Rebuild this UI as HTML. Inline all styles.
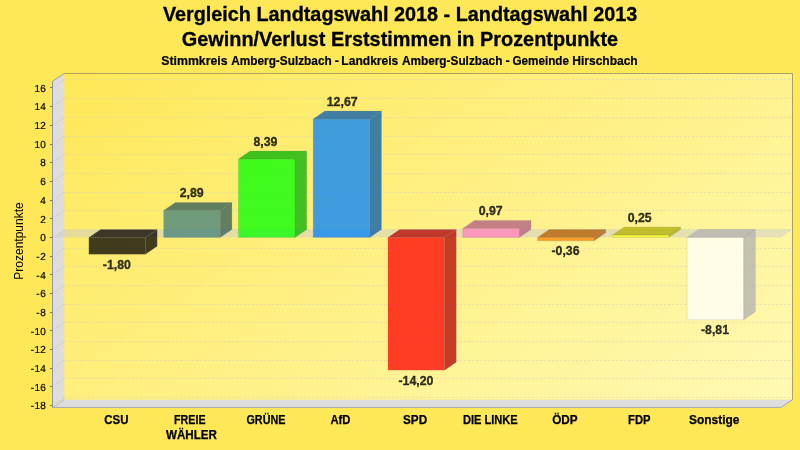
<!DOCTYPE html>
<html lang="de"><head><meta charset="utf-8"><title>Vergleich Landtagswahl 2018 - Landtagswahl 2013</title>
<style>html,body{margin:0;padding:0;background:#FEE857;overflow:hidden}svg{display:block}</style></head>
<body>
<svg width="800" height="450" viewBox="0 0 800 450" font-family="'Liberation Sans', Arial, sans-serif">
<defs><linearGradient id="pg" gradientUnits="userSpaceOnUse" x1="64.2" y1="73.3" x2="441.2" y2="635.3"><stop offset="0" stop-color="#FEE857"/><stop offset="1" stop-color="#FFF9B4"/></linearGradient></defs>
<rect width="800" height="450" fill="#FEE857"/>
<rect x="64.2" y="73.3" width="728.2" height="326.4" fill="url(#pg)"/>
<polygon points="52.50,81.30 64.20,73.30 64.20,399.70 52.50,407.70" fill="#DDDDDD"/>
<polygon points="52.50,407.70 64.20,399.70 792.40,399.70 780.70,407.70" fill="#DDDDDD"/>
<path d="M64.2,73.5 L792.5,73.5 L792.5,399.7" fill="none" stroke="#646464" stroke-opacity="0.55" stroke-width="1"/>
<path d="M52.5,81.3 L64.2,73.5" fill="none" stroke="#9C9CAC" stroke-width="1"/>
<path d="M792.5,399.7 L780.7,407.7" fill="none" stroke="#A2A2B4" stroke-width="1"/>
<path d="M52.5,407.7 L64.2,399.7" fill="none" stroke="#BEBEBE" stroke-width="1"/>
<line x1="52.5" y1="405.5" x2="64.2" y2="397.5" stroke="#C4C4C4" stroke-width="1" stroke-dasharray="2,2" stroke-opacity="0.7"/>
<line x1="64.2" y1="397.5" x2="791.4" y2="397.5" stroke="#D4D2C2" stroke-width="1" stroke-dasharray="2,2" stroke-opacity="0.62"/>
<line x1="52.5" y1="386.5" x2="64.2" y2="378.5" stroke="#C4C4C4" stroke-width="1" stroke-dasharray="2,2" stroke-opacity="0.7"/>
<line x1="64.2" y1="378.5" x2="791.4" y2="378.5" stroke="#D4D2C2" stroke-width="1" stroke-dasharray="2,2" stroke-opacity="0.62"/>
<line x1="52.5" y1="368.5" x2="64.2" y2="360.5" stroke="#C4C4C4" stroke-width="1" stroke-dasharray="2,2" stroke-opacity="0.7"/>
<line x1="64.2" y1="360.5" x2="791.4" y2="360.5" stroke="#D4D2C2" stroke-width="1" stroke-dasharray="2,2" stroke-opacity="0.62"/>
<line x1="52.5" y1="349.5" x2="64.2" y2="341.5" stroke="#C4C4C4" stroke-width="1" stroke-dasharray="2,2" stroke-opacity="0.7"/>
<line x1="64.2" y1="341.5" x2="791.4" y2="341.5" stroke="#D4D2C2" stroke-width="1" stroke-dasharray="2,2" stroke-opacity="0.62"/>
<line x1="52.5" y1="330.5" x2="64.2" y2="322.5" stroke="#C4C4C4" stroke-width="1" stroke-dasharray="2,2" stroke-opacity="0.7"/>
<line x1="64.2" y1="322.5" x2="791.4" y2="322.5" stroke="#D4D2C2" stroke-width="1" stroke-dasharray="2,2" stroke-opacity="0.62"/>
<line x1="52.5" y1="312.5" x2="64.2" y2="304.5" stroke="#C4C4C4" stroke-width="1" stroke-dasharray="2,2" stroke-opacity="0.7"/>
<line x1="64.2" y1="304.5" x2="791.4" y2="304.5" stroke="#D4D2C2" stroke-width="1" stroke-dasharray="2,2" stroke-opacity="0.62"/>
<line x1="52.5" y1="293.5" x2="64.2" y2="285.5" stroke="#C4C4C4" stroke-width="1" stroke-dasharray="2,2" stroke-opacity="0.7"/>
<line x1="64.2" y1="285.5" x2="791.4" y2="285.5" stroke="#D4D2C2" stroke-width="1" stroke-dasharray="2,2" stroke-opacity="0.62"/>
<line x1="52.5" y1="274.5" x2="64.2" y2="266.5" stroke="#C4C4C4" stroke-width="1" stroke-dasharray="2,2" stroke-opacity="0.7"/>
<line x1="64.2" y1="266.5" x2="791.4" y2="266.5" stroke="#D4D2C2" stroke-width="1" stroke-dasharray="2,2" stroke-opacity="0.62"/>
<line x1="52.5" y1="256.5" x2="64.2" y2="248.5" stroke="#C4C4C4" stroke-width="1" stroke-dasharray="2,2" stroke-opacity="0.7"/>
<line x1="64.2" y1="248.5" x2="791.4" y2="248.5" stroke="#D4D2C2" stroke-width="1" stroke-dasharray="2,2" stroke-opacity="0.62"/>
<line x1="52.5" y1="237.5" x2="64.2" y2="229.5" stroke="#C4C4C4" stroke-width="1" stroke-dasharray="2,2" stroke-opacity="0.7"/>
<line x1="64.2" y1="229.5" x2="791.4" y2="229.5" stroke="#D4D2C2" stroke-width="1" stroke-dasharray="2,2" stroke-opacity="0.62"/>
<line x1="52.5" y1="218.5" x2="64.2" y2="210.5" stroke="#C4C4C4" stroke-width="1" stroke-dasharray="2,2" stroke-opacity="0.7"/>
<line x1="64.2" y1="210.5" x2="791.4" y2="210.5" stroke="#D4D2C2" stroke-width="1" stroke-dasharray="2,2" stroke-opacity="0.62"/>
<line x1="52.5" y1="200.5" x2="64.2" y2="192.5" stroke="#C4C4C4" stroke-width="1" stroke-dasharray="2,2" stroke-opacity="0.7"/>
<line x1="64.2" y1="192.5" x2="791.4" y2="192.5" stroke="#D4D2C2" stroke-width="1" stroke-dasharray="2,2" stroke-opacity="0.62"/>
<line x1="52.5" y1="181.5" x2="64.2" y2="173.5" stroke="#C4C4C4" stroke-width="1" stroke-dasharray="2,2" stroke-opacity="0.7"/>
<line x1="64.2" y1="173.5" x2="791.4" y2="173.5" stroke="#D4D2C2" stroke-width="1" stroke-dasharray="2,2" stroke-opacity="0.62"/>
<line x1="52.5" y1="162.5" x2="64.2" y2="154.5" stroke="#C4C4C4" stroke-width="1" stroke-dasharray="2,2" stroke-opacity="0.7"/>
<line x1="64.2" y1="154.5" x2="791.4" y2="154.5" stroke="#D4D2C2" stroke-width="1" stroke-dasharray="2,2" stroke-opacity="0.62"/>
<line x1="52.5" y1="144.5" x2="64.2" y2="136.5" stroke="#C4C4C4" stroke-width="1" stroke-dasharray="2,2" stroke-opacity="0.7"/>
<line x1="64.2" y1="136.5" x2="791.4" y2="136.5" stroke="#D4D2C2" stroke-width="1" stroke-dasharray="2,2" stroke-opacity="0.62"/>
<line x1="52.5" y1="125.5" x2="64.2" y2="117.5" stroke="#C4C4C4" stroke-width="1" stroke-dasharray="2,2" stroke-opacity="0.7"/>
<line x1="64.2" y1="117.5" x2="791.4" y2="117.5" stroke="#D4D2C2" stroke-width="1" stroke-dasharray="2,2" stroke-opacity="0.62"/>
<line x1="52.5" y1="106.5" x2="64.2" y2="98.5" stroke="#C4C4C4" stroke-width="1" stroke-dasharray="2,2" stroke-opacity="0.7"/>
<line x1="64.2" y1="98.5" x2="791.4" y2="98.5" stroke="#D4D2C2" stroke-width="1" stroke-dasharray="2,2" stroke-opacity="0.62"/>
<line x1="52.5" y1="87.5" x2="64.2" y2="79.5" stroke="#C4C4C4" stroke-width="1" stroke-dasharray="2,2" stroke-opacity="0.7"/>
<line x1="64.2" y1="79.5" x2="791.4" y2="79.5" stroke="#D4D2C2" stroke-width="1" stroke-dasharray="2,2" stroke-opacity="0.62"/>
<polygon points="52.50,237.45 64.20,229.45 792.40,229.45 780.70,237.45" fill="#CCCCCC" fill-opacity="0.5"/>
<g fill-opacity="0.75" stroke="#808080" stroke-opacity="0.3" stroke-width="0.6" stroke-linejoin="round">
<polygon points="145.46,237.45 157.16,229.45 157.16,246.27 145.46,254.27" fill="rgb(0,0,0)"/>
<polygon points="88.88,237.45 100.58,229.45 157.16,229.45 145.46,237.45" fill="rgb(0,0,0)"/>
<rect x="88.88" y="237.45" width="56.58" height="16.82" fill="rgb(0,0,0)"/>
</g>
<g fill-opacity="0.75" stroke="#808080" stroke-opacity="0.3" stroke-width="0.6" stroke-linejoin="round">
<polygon points="220.23,210.44 231.93,202.44 231.93,229.45 220.23,237.45" fill="rgb(44,89,89)"/>
<polygon points="163.65,210.44 175.35,202.44 231.93,202.44 220.23,210.44" fill="rgb(44,89,89)"/>
<rect x="163.65" y="210.44" width="56.58" height="27.01" fill="rgb(64,128,128)"/>
</g>
<g fill-opacity="0.75" stroke="#808080" stroke-opacity="0.3" stroke-width="0.6" stroke-linejoin="round">
<polygon points="295.00,159.05 306.70,151.05 306.70,229.45 295.00,237.45" fill="rgb(0,178,0)"/>
<polygon points="238.42,159.05 250.12,151.05 306.70,151.05 295.00,159.05" fill="rgb(0,178,0)"/>
<rect x="238.42" y="159.05" width="56.58" height="78.40" fill="rgb(0,255,0)"/>
</g>
<g fill-opacity="0.75" stroke="#808080" stroke-opacity="0.3" stroke-width="0.6" stroke-linejoin="round">
<polygon points="369.77,119.05 381.47,111.05 381.47,229.45 369.77,237.45" fill="rgb(0,89,178)"/>
<polygon points="313.19,119.05 324.89,111.05 381.47,111.05 369.77,119.05" fill="rgb(0,89,178)"/>
<rect x="313.19" y="119.05" width="56.58" height="118.40" fill="rgb(0,128,255)"/>
</g>
<g fill-opacity="0.75" stroke="#808080" stroke-opacity="0.3" stroke-width="0.6" stroke-linejoin="round">
<polygon points="444.54,237.45 456.24,229.45 456.24,362.15 444.54,370.15" fill="rgb(178,0,0)"/>
<polygon points="387.96,237.45 399.66,229.45 456.24,229.45 444.54,237.45" fill="rgb(178,0,0)"/>
<rect x="387.96" y="237.45" width="56.58" height="132.70" fill="rgb(255,0,0)"/>
</g>
<g fill-opacity="0.75" stroke="#808080" stroke-opacity="0.3" stroke-width="0.6" stroke-linejoin="round">
<polygon points="519.31,228.39 531.01,220.39 531.01,229.45 519.31,237.45" fill="rgb(178,89,134)"/>
<polygon points="462.73,228.39 474.43,220.39 531.01,220.39 519.31,228.39" fill="rgb(178,89,134)"/>
<rect x="462.73" y="228.39" width="56.58" height="9.06" fill="rgb(255,128,192)"/>
</g>
<g fill-opacity="0.75" stroke="#808080" stroke-opacity="0.3" stroke-width="0.6" stroke-linejoin="round">
<polygon points="594.08,237.45 605.78,229.45 605.78,232.81 594.08,240.81" fill="rgb(178,89,0)"/>
<polygon points="537.50,237.45 549.20,229.45 605.78,229.45 594.08,237.45" fill="rgb(178,89,0)"/>
<rect x="537.50" y="237.45" width="56.58" height="3.36" fill="rgb(255,128,0)"/>
</g>
<g fill-opacity="0.75" stroke="#808080" stroke-opacity="0.3" stroke-width="0.6" stroke-linejoin="round">
<polygon points="668.85,235.11 680.55,227.11 680.55,229.45 668.85,237.45" fill="rgb(178,178,0)"/>
<polygon points="612.27,235.11 623.97,227.11 680.55,227.11 668.85,235.11" fill="rgb(178,178,0)"/>
<rect x="612.27" y="235.11" width="56.58" height="2.34" fill="rgb(255,255,0)"/>
</g>
<g fill-opacity="0.75" stroke="#808080" stroke-opacity="0.3" stroke-width="0.6" stroke-linejoin="round">
<polygon points="743.62,237.45 755.33,229.45 755.33,311.78 743.62,319.78" fill="rgb(178,178,178)"/>
<polygon points="687.04,237.45 698.74,229.45 755.33,229.45 743.62,237.45" fill="rgb(178,178,178)"/>
<rect x="687.04" y="237.45" width="56.58" height="82.33" fill="rgb(255,255,255)"/>
</g>
<text x="102.87" y="268.77" textLength="28" lengthAdjust="spacingAndGlyphs" font-size="12.4" font-weight="bold" fill="#000" fill-opacity="0.8" stroke="#000" stroke-opacity="0.8" stroke-width="0.3">-1,80</text>
<text x="104.20" y="424.1" textLength="24.25" font-size="12.3" font-weight="bold" fill="#000" stroke="#000" stroke-width="0.25" lengthAdjust="spacingAndGlyphs">CSU</text>
<text x="179.64" y="197.14" textLength="24" lengthAdjust="spacingAndGlyphs" font-size="12.4" font-weight="bold" fill="#000" fill-opacity="0.8" stroke="#000" stroke-opacity="0.8" stroke-width="0.3">2,89</text>
<text x="174.05" y="424.1" textLength="31.60" font-size="12.3" font-weight="bold" fill="#000" stroke="#000" stroke-width="0.25" lengthAdjust="spacingAndGlyphs">FREIE</text>
<text x="165.95" y="439.1" textLength="51.00" font-size="12.3" font-weight="bold" fill="#000" stroke="#000" stroke-width="0.25" lengthAdjust="spacingAndGlyphs">WÄHLER</text>
<text x="253.41" y="145.75" textLength="24" lengthAdjust="spacingAndGlyphs" font-size="12.4" font-weight="bold" fill="#000" fill-opacity="0.8" stroke="#000" stroke-opacity="0.8" stroke-width="0.3">8,39</text>
<text x="246.45" y="424.1" textLength="39.00" font-size="12.3" font-weight="bold" fill="#000" stroke="#000" stroke-width="0.25" lengthAdjust="spacingAndGlyphs">GRÜNE</text>
<text x="326.68" y="105.75" textLength="31" lengthAdjust="spacingAndGlyphs" font-size="12.4" font-weight="bold" fill="#000" fill-opacity="0.8" stroke="#000" stroke-opacity="0.8" stroke-width="0.3">12,67</text>
<text x="330.45" y="424.1" textLength="20.00" font-size="12.3" font-weight="bold" fill="#000" stroke="#000" stroke-width="0.25" lengthAdjust="spacingAndGlyphs">AfD</text>
<text x="398.45" y="384.65" textLength="35" lengthAdjust="spacingAndGlyphs" font-size="12.4" font-weight="bold" fill="#000" fill-opacity="0.8" stroke="#000" stroke-opacity="0.8" stroke-width="0.3">-14,20</text>
<text x="403.05" y="424.1" textLength="24.10" font-size="12.3" font-weight="bold" fill="#000" stroke="#000" stroke-width="0.25" lengthAdjust="spacingAndGlyphs">SPD</text>
<text x="478.72" y="215.09" textLength="24" lengthAdjust="spacingAndGlyphs" font-size="12.4" font-weight="bold" fill="#000" fill-opacity="0.8" stroke="#000" stroke-opacity="0.8" stroke-width="0.3">0,97</text>
<text x="462.95" y="424.1" textLength="54.80" font-size="12.3" font-weight="bold" fill="#000" stroke="#000" stroke-width="0.25" lengthAdjust="spacingAndGlyphs">DIE LINKE</text>
<text x="551.49" y="255.31" textLength="28" lengthAdjust="spacingAndGlyphs" font-size="12.4" font-weight="bold" fill="#000" fill-opacity="0.8" stroke="#000" stroke-opacity="0.8" stroke-width="0.3">-0,36</text>
<text x="552.15" y="424.1" textLength="25.40" font-size="12.3" font-weight="bold" fill="#000" stroke="#000" stroke-width="0.25" lengthAdjust="spacingAndGlyphs">ÖDP</text>
<text x="627.66" y="221.81" textLength="24" lengthAdjust="spacingAndGlyphs" font-size="12.4" font-weight="bold" fill="#000" fill-opacity="0.8" stroke="#000" stroke-opacity="0.8" stroke-width="0.3">0,25</text>
<text x="628.05" y="424.1" textLength="22.40" font-size="12.3" font-weight="bold" fill="#000" stroke="#000" stroke-width="0.25" lengthAdjust="spacingAndGlyphs">FDP</text>
<text x="701.03" y="334.28" textLength="28" lengthAdjust="spacingAndGlyphs" font-size="12.4" font-weight="bold" fill="#000" fill-opacity="0.8" stroke="#000" stroke-opacity="0.8" stroke-width="0.3">-8,81</text>
<text x="689.05" y="424.1" textLength="50.40" font-size="12.3" font-weight="bold" fill="#000" stroke="#000" stroke-width="0.25" lengthAdjust="spacingAndGlyphs">Sonstige</text>
<line x1="52.5" y1="81.3" x2="52.5" y2="407.7" stroke="#95959F" stroke-width="1"/>
<line x1="52.5" y1="407.4" x2="780.7" y2="407.4" stroke="#A6A6B0" stroke-width="1"/>
<line x1="50" y1="405.5" x2="52.5" y2="405.5" stroke="#7C7C84" stroke-width="1"/>
<text transform="translate(30.65,409) rotate(0.05) scale(1,1.02)" font-size="10" fill="#000" stroke="#000" stroke-width="0.2">-<tspan dx="0.6" textLength="11.12" lengthAdjust="spacingAndGlyphs">18</tspan></text>
<line x1="50" y1="386.5" x2="52.5" y2="386.5" stroke="#7C7C84" stroke-width="1"/>
<text transform="translate(30.65,391) rotate(0.05) scale(1,1.02)" font-size="10" fill="#000" stroke="#000" stroke-width="0.2">-<tspan dx="0.6" textLength="11.12" lengthAdjust="spacingAndGlyphs">16</tspan></text>
<line x1="50" y1="368.5" x2="52.5" y2="368.5" stroke="#7C7C84" stroke-width="1"/>
<text transform="translate(30.65,372) rotate(0.05) scale(1,1.02)" font-size="10" fill="#000" stroke="#000" stroke-width="0.2">-<tspan dx="0.6" textLength="11.12" lengthAdjust="spacingAndGlyphs">14</tspan></text>
<line x1="50" y1="349.5" x2="52.5" y2="349.5" stroke="#7C7C84" stroke-width="1"/>
<text transform="translate(30.65,353) rotate(0.05) scale(1,1.02)" font-size="10" fill="#000" stroke="#000" stroke-width="0.2">-<tspan dx="0.6" textLength="11.12" lengthAdjust="spacingAndGlyphs">12</tspan></text>
<line x1="50" y1="330.5" x2="52.5" y2="330.5" stroke="#7C7C84" stroke-width="1"/>
<text transform="translate(30.65,335) rotate(0.05) scale(1,1.02)" font-size="10" fill="#000" stroke="#000" stroke-width="0.2">-<tspan dx="0.6" textLength="11.12" lengthAdjust="spacingAndGlyphs">10</tspan></text>
<line x1="50" y1="312.5" x2="52.5" y2="312.5" stroke="#7C7C84" stroke-width="1"/>
<text transform="translate(36.21,316) rotate(0.05) scale(1,1.02)" font-size="10" fill="#000" stroke="#000" stroke-width="0.2">-<tspan dx="0.6" textLength="5.56" lengthAdjust="spacingAndGlyphs">8</tspan></text>
<line x1="50" y1="293.5" x2="52.5" y2="293.5" stroke="#7C7C84" stroke-width="1"/>
<text transform="translate(36.21,297) rotate(0.05) scale(1,1.02)" font-size="10" fill="#000" stroke="#000" stroke-width="0.2">-<tspan dx="0.6" textLength="5.56" lengthAdjust="spacingAndGlyphs">6</tspan></text>
<line x1="50" y1="274.5" x2="52.5" y2="274.5" stroke="#7C7C84" stroke-width="1"/>
<text transform="translate(36.21,279) rotate(0.05) scale(1,1.02)" font-size="10" fill="#000" stroke="#000" stroke-width="0.2">-<tspan dx="0.6" textLength="5.56" lengthAdjust="spacingAndGlyphs">4</tspan></text>
<line x1="50" y1="256.5" x2="52.5" y2="256.5" stroke="#7C7C84" stroke-width="1"/>
<text transform="translate(36.21,260) rotate(0.05) scale(1,1.02)" font-size="10" fill="#000" stroke="#000" stroke-width="0.2">-<tspan dx="0.6" textLength="5.56" lengthAdjust="spacingAndGlyphs">2</tspan></text>
<line x1="50" y1="237.5" x2="52.5" y2="237.5" stroke="#7C7C84" stroke-width="1"/>
<text transform="translate(40.14,241) rotate(0.05) scale(1,1.02)" font-size="10" fill="#000" stroke="#000" stroke-width="0.2" textLength="5.56" lengthAdjust="spacingAndGlyphs">0</text>
<line x1="50" y1="218.5" x2="52.5" y2="218.5" stroke="#7C7C84" stroke-width="1"/>
<text transform="translate(40.14,223) rotate(0.05) scale(1,1.02)" font-size="10" fill="#000" stroke="#000" stroke-width="0.2" textLength="5.56" lengthAdjust="spacingAndGlyphs">2</text>
<line x1="50" y1="200.5" x2="52.5" y2="200.5" stroke="#7C7C84" stroke-width="1"/>
<text transform="translate(40.14,204) rotate(0.05) scale(1,1.02)" font-size="10" fill="#000" stroke="#000" stroke-width="0.2" textLength="5.56" lengthAdjust="spacingAndGlyphs">4</text>
<line x1="50" y1="181.5" x2="52.5" y2="181.5" stroke="#7C7C84" stroke-width="1"/>
<text transform="translate(40.14,185) rotate(0.05) scale(1,1.02)" font-size="10" fill="#000" stroke="#000" stroke-width="0.2" textLength="5.56" lengthAdjust="spacingAndGlyphs">6</text>
<line x1="50" y1="162.5" x2="52.5" y2="162.5" stroke="#7C7C84" stroke-width="1"/>
<text transform="translate(40.14,166) rotate(0.05) scale(1,1.02)" font-size="10" fill="#000" stroke="#000" stroke-width="0.2" textLength="5.56" lengthAdjust="spacingAndGlyphs">8</text>
<line x1="50" y1="144.5" x2="52.5" y2="144.5" stroke="#7C7C84" stroke-width="1"/>
<text transform="translate(34.58,148) rotate(0.05) scale(1,1.02)" font-size="10" fill="#000" stroke="#000" stroke-width="0.2" textLength="11.12" lengthAdjust="spacingAndGlyphs">10</text>
<line x1="50" y1="125.5" x2="52.5" y2="125.5" stroke="#7C7C84" stroke-width="1"/>
<text transform="translate(34.58,129) rotate(0.05) scale(1,1.02)" font-size="10" fill="#000" stroke="#000" stroke-width="0.2" textLength="11.12" lengthAdjust="spacingAndGlyphs">12</text>
<line x1="50" y1="106.5" x2="52.5" y2="106.5" stroke="#7C7C84" stroke-width="1"/>
<text transform="translate(34.58,110) rotate(0.05) scale(1,1.02)" font-size="10" fill="#000" stroke="#000" stroke-width="0.2" textLength="11.12" lengthAdjust="spacingAndGlyphs">14</text>
<line x1="50" y1="87.5" x2="52.5" y2="87.5" stroke="#7C7C84" stroke-width="1"/>
<text transform="translate(34.58,92) rotate(0.05) scale(1,1.02)" font-size="10" fill="#000" stroke="#000" stroke-width="0.2" textLength="11.12" lengthAdjust="spacingAndGlyphs">16</text>
<text transform="translate(22.9,241) rotate(-90)" text-anchor="middle" font-size="12" fill="#000">Prozentpunkte</text>
<text x="162.9" y="20.8" textLength="474.4" stroke="#000" stroke-width="0.3" lengthAdjust="spacingAndGlyphs" font-size="20.4" font-weight="bold" fill="#000">Vergleich Landtagswahl 2018 - Landtagswahl 2013</text>
<text x="181.8" y="45.9" textLength="436.3" stroke="#000" stroke-width="0.3" lengthAdjust="spacingAndGlyphs" font-size="20.4" font-weight="bold" fill="#000">Gewinn/Verlust Erststimmen in Prozentpunkte</text>
<text transform="translate(0,65.3) scale(1,1.05)" y="0" font-size="11.95" font-weight="bold" fill="#000" stroke="#000" stroke-width="0.2"><tspan x="161.30" textLength="66.20" lengthAdjust="spacingAndGlyphs">Stimmkreis</tspan> <tspan x="231.20" textLength="100.50" lengthAdjust="spacingAndGlyphs">Amberg-Sulzbach</tspan> <tspan x="334.65" textLength="4.15" lengthAdjust="spacingAndGlyphs">-</tspan> <tspan x="341.35" textLength="56.95" lengthAdjust="spacingAndGlyphs">Landkreis</tspan> <tspan x="401.90" textLength="100.50" lengthAdjust="spacingAndGlyphs">Amberg-Sulzbach</tspan> <tspan x="505.40" textLength="4.20" lengthAdjust="spacingAndGlyphs">-</tspan> <tspan x="512.40" textLength="56.60" lengthAdjust="spacingAndGlyphs">Gemeinde</tspan> <tspan x="572.30" textLength="65.40" lengthAdjust="spacingAndGlyphs">Hirschbach</tspan></text>
</svg>
</body></html>
